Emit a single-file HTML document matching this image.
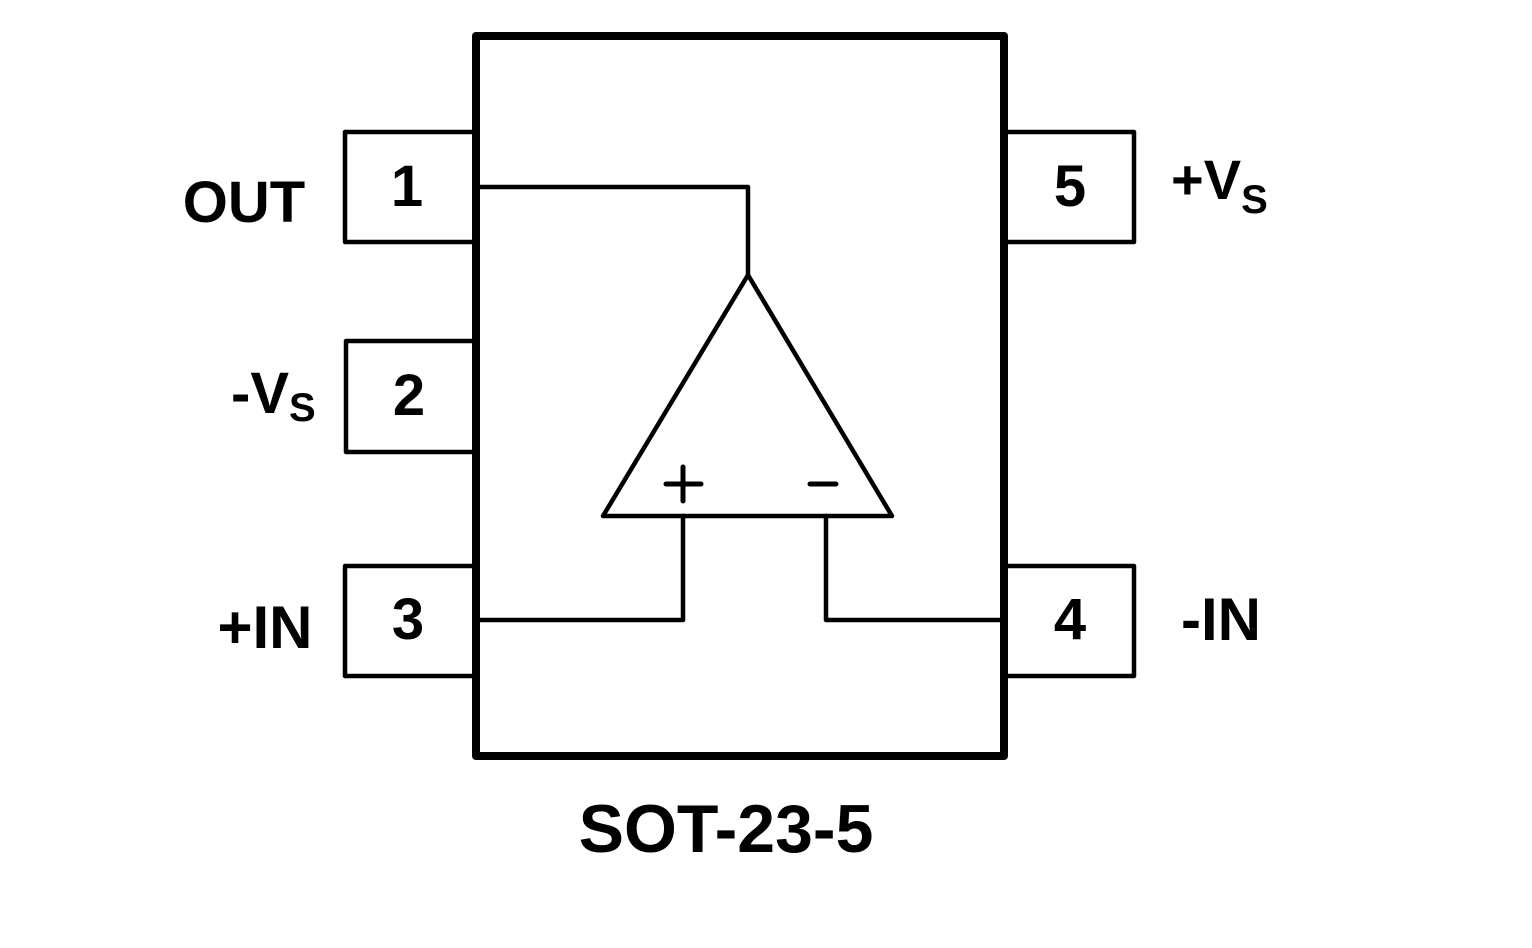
<!DOCTYPE html>
<html><head><style>html,body{margin:0;padding:0;background:#fff}svg{display:block}</style></head>
<body>
<svg width="1532" height="948" viewBox="0 0 1532 948" xmlns="http://www.w3.org/2000/svg" font-family="Liberation Sans, Arial, sans-serif" font-weight="bold" fill="#000">
<rect x="0" y="0" width="1532" height="948" fill="#fff"/>
<g fill="none" stroke="#000" stroke-linejoin="round" stroke-linecap="round">
<rect x="476" y="36" width="528" height="720" stroke-width="8"/>
<g stroke-width="4.5">
<polyline points="472,132 345,132 345,242 472,242"/>
<polyline points="472,341 346,341 346,452 472,452"/>
<polyline points="472,566 345,566 345,676 472,676"/>
<polyline points="1008,132 1134,132 1134,242 1008,242"/>
<polyline points="1008,566 1134,566 1134,676 1008,676"/>
<polyline points="478,187 748,187 748,275"/>
<polygon points="748,275 892,516 603,516"/>
<polyline points="683,516 683,620 478,620"/>
<polyline points="826,516 826,620 1002,620"/>
</g>
<g stroke-width="5">
<line x1="666" y1="484" x2="701" y2="484"/>
<line x1="683" y1="467" x2="683" y2="501"/>
<line x1="810" y1="484" x2="836" y2="484"/>
</g>
</g>
<g font-size="58" text-anchor="middle">
<text x="407" y="206">1</text>
<text x="409" y="415">2</text>
<text x="408" y="639">3</text>
<text x="1070" y="639">4</text>
<text x="1070" y="206">5</text>
</g>
<text x="244" y="222" font-size="58" text-anchor="middle">OUT</text>
<text x="265" y="648" font-size="60" text-anchor="middle">+IN</text>
<text x="1221" y="640" font-size="60" text-anchor="middle">-IN</text>
<text x="231" y="413" font-size="58">-V<tspan font-size="40" dy="8">S</tspan></text>
<text x="1171" y="199" font-size="56">+V<tspan font-size="40" dy="14">S</tspan></text>
<text x="726" y="852" font-size="68" text-anchor="middle">SOT-23-5</text>
</svg>
</body></html>
